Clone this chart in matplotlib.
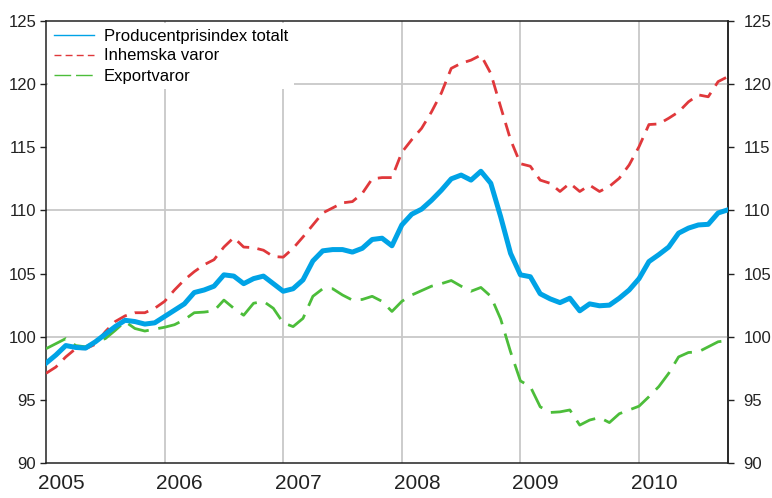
import matplotlib
matplotlib.use('Agg')
import matplotlib.pyplot as plt
from matplotlib.lines import Line2D
from matplotlib.transforms import ScaledTranslation
import numpy as np

# monthly index values, Jan 2005 - Oct 2010
totalt = [97.9, 98.55, 99.3, 99.15, 99.1, 99.6, 100.2, 100.8, 101.3, 101.2,
          101.0, 101.1, 101.6, 102.1, 102.6, 103.5, 103.7, 104.0, 104.9, 104.8,
          104.2, 104.6, 104.8, 104.2, 103.6, 103.8, 104.5, 106.0, 106.8, 106.9,
          106.9, 106.7, 107.0, 107.7, 107.8, 107.2, 108.85, 109.7, 110.1, 110.8,
          111.6, 112.5, 112.8, 112.4, 113.1, 112.15, 109.5, 106.6, 104.9, 104.75,
          103.4, 103.0, 102.7, 103.05, 102.05, 102.6, 102.45, 102.5, 103.05, 103.7,
          104.6, 105.95, 106.5, 107.1, 108.2, 108.6, 108.85, 108.9, 109.8, 110.05]

inhemska = [97.1, 97.6, 98.4, 99.05, 99.05, 99.4, 100.4, 101.2, 101.65, 101.9,
            101.9, 102.25, 102.8, 103.7, 104.5, 105.15, 105.7, 106.1, 107.1, 107.85,
            107.1, 107.05, 106.85, 106.35, 106.3, 107.0, 107.9, 108.85, 109.8, 110.2,
            110.6, 110.7, 111.35, 112.5, 112.6, 112.6, 114.6, 115.6, 116.5, 117.8,
            119.3, 121.25, 121.65, 121.9, 122.3, 120.85, 118.2, 115.6, 113.7, 113.5,
            112.4, 112.15, 111.5, 112.15, 111.5, 112.0, 111.5, 111.9, 112.55, 113.6,
            115.05, 116.8, 116.85, 117.3, 117.8, 118.6, 119.15, 119.0, 120.2, 120.6]

export = [99.05, 99.45, 99.85, 99.3, 99.2, 99.6, 99.85, 100.5, 101.2, 100.65,
          100.45, 100.6, 100.75, 100.95, 101.35, 101.9, 101.95, 102.05, 102.9, 102.25,
          101.7, 102.65, 102.8, 102.25, 101.1, 100.8, 101.45, 103.2, 103.8, 103.8,
          103.3, 102.9, 102.95, 103.2, 102.8, 102.0, 102.8, 103.3, 103.65, 104.0,
          104.2, 104.45, 104.0, 103.6, 103.9, 103.2, 101.4, 98.8, 96.5, 96.05,
          94.45, 94.0, 94.05, 94.2, 93.0, 93.4, 93.6, 93.2, 93.9, 94.2,
          94.5, 95.25, 96.05, 97.1, 98.4, 98.75, 98.8, 99.2, 99.6, 99.7]

namn = ['Producentprisindex totalt', 'Inhemska varor', 'Exportvaror']
farger = ['#00a3e6', '#e0383b', '#4cbd3a']
years = [2005, 2006, 2007, 2008, 2009, 2010]
hgrid = [100, 110, 120]

x = 2005 + np.arange(len(totalt)) / 12.0

plt.rcParams['font.family'] = ['Liberation Sans', 'DejaVu Sans']

fig = plt.figure(figsize=(7.72, 4.98), dpi=100)
ax = fig.add_axes([46 / 772, 1 - 463 / 498, 682 / 772, 442 / 498])

for yv in hgrid:
    ax.axhline(yv, color='#c8c8c8', lw=1.3, zorder=1)
for yr in years[1:]:
    ax.axvline(yr, color='#c8c8c8', lw=1.3, zorder=1)

ax.plot(x, export, color=farger[2], lw=2, dashes=(8, 3.5), zorder=3)
ax.plot(x, inhemska, color=farger[1], lw=2, dashes=(5, 3), zorder=3)
ax.plot(x, totalt, color=farger[0], lw=3.6, zorder=4, solid_joinstyle='round')

ax.set_xlim(2005, x[-1])
ax.set_ylim(90, 125)
ax.set_yticks(np.arange(90, 126, 5))
ax.set_xticks(years)
ax.set_xticklabels([str(y) for y in years])
ax.tick_params(axis='x', length=0, pad=8, labelsize=15, labelcolor='#222222')
ax.tick_params(axis='y', direction='out', length=4, width=1, pad=3,
               labelsize=12, colors='#222222')
for lab in ax.get_xticklabels():
    lab.set_transform(lab.get_transform() + ScaledTranslation(0.15, 0, fig.dpi_scale_trans))

sec = ax.secondary_yaxis('right')
sec.set_yticks(np.arange(90, 126, 5))
sec.tick_params(direction='out', length=4, width=1, pad=7, labelsize=12, colors='#222222')
sec.spines['right'].set_linewidth(1.1)
sec.spines['right'].set_color('#222222')

for s in ax.spines.values():
    s.set_linewidth(1.1)
    s.set_color('#222222')

handles = [Line2D([], [], color=farger[0], lw=1),
           Line2D([], [], color=farger[1], lw=1, dashes=(5, 3)),
           Line2D([], [], color=farger[2], lw=1, dashes=(12, 3.5))]
leg = ax.legend(handles, namn, loc='upper left', bbox_to_anchor=(0, 1),
                borderaxespad=0.1, borderpad=0.35, fontsize=12, handlelength=2.4,
                handletextpad=0.6, labelspacing=0.3, frameon=True, fancybox=False)
leg.get_frame().set_edgecolor('none')
leg.get_frame().set_facecolor('white')
leg.get_frame().set_alpha(1)
leg.set_zorder(5)

fig.savefig('out.png', dpi=100)
